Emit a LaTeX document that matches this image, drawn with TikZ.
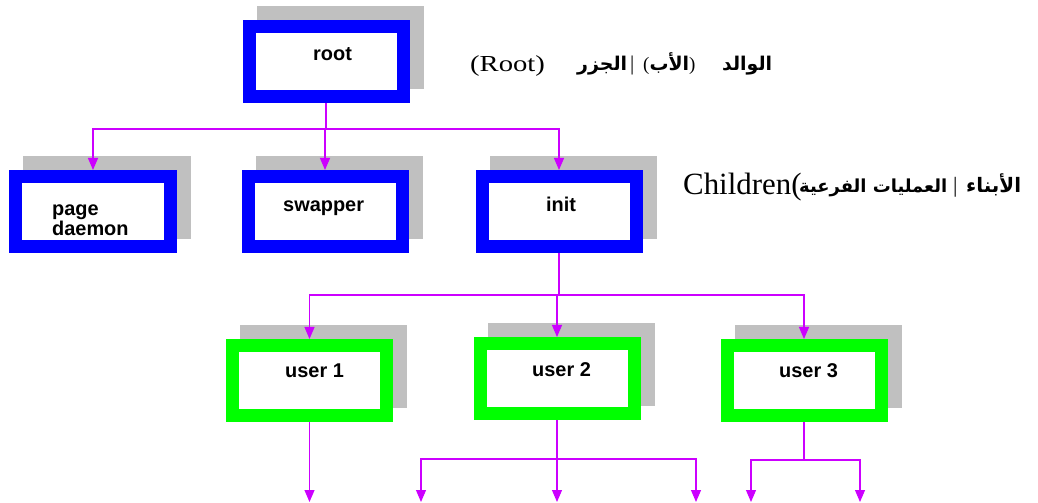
\documentclass[tikz,border=0pt]{standalone}
\usepackage{fontspec}
\usepackage{graphicx}
\setmainfont{Liberation Serif}
\newfontfamily\boxfont{Liberation Sans}
\newfontfamily\ar[Script=Arabic]{DejaVu Sans}
\TeXXeTstate=1
\usetikzlibrary{arrows.meta,backgrounds}

\definecolor{procblue}{RGB}{0,0,255}
\definecolor{procgreen}{RGB}{0,255,0}
\definecolor{shadowgray}{RGB}{192,192,192}
\definecolor{wirepurple}{RGB}{204,0,255}

\tikzset{
  procbox/.style={draw=#1, line width=13bp, fill=white,
    minimum width=154bp, minimum height=70bp, inner sep=0pt},
  lbl/.style={font=\boxfont\bfseries\fontsize{20}{20}\selectfont, inner sep=0pt},
  wire/.style={draw=wirepurple, line width=1.1bp},
  tip/.style={-{Triangle[width=10bp,length=12bp]}},
  note/.style={inner sep=0pt, anchor=base west},
}

\newcommand{\boxshadow}[1]{%
  \fill[shadowgray] ([shift={(14,-14)}]#1.north west) rectangle ([shift={(14,-14)}]#1.south east);}

\begin{document}
\begin{tikzpicture}[x=1bp,y=-1bp]
\useasboundingbox (0,0) rectangle (1038,503);

% process boxes
\node[procbox=procblue]  (root)    at (326,61.5) {};
\node[procbox=procblue]  (page)    at (93,211.5)   {};
\node[procbox=procblue]  (swapper) at (325,211.5)  {};
\node[procbox=procblue]  (init)    at (559,211.5)  {};
\node[procbox=procgreen] (user1)   at (309.5,380.5) {};
\node[procbox=procgreen] (user2)   at (557,378.5)  {};
\node[procbox=procgreen] (user3)   at (804,380.5)  {};

\begin{scope}[on background layer]
  \boxshadow{root}\boxshadow{page}\boxshadow{swapper}\boxshadow{init}
  \boxshadow{user1}\boxshadow{user2}\boxshadow{user3}
\end{scope}

% box labels
\node[lbl, anchor=base west] (troot) at (313,61) {root};
\node[lbl, anchor=west, align=left] (tpage) at (52,220) {page\\daemon};
\node[lbl, anchor=base west] (tswap) at (283,212) {swapper};
\node[lbl, anchor=base west] (tinit) at (546,212) {init};
\node[lbl, anchor=base west] (tu1) at (285,378) {user 1};
\node[lbl, anchor=base west] (tu2) at (532,377) {user 2};
\node[lbl, anchor=base west] (tu3) at (779,378) {user 3};

% bus points and open ends
\coordinate (b1) at (326,129);
\coordinate (b2) at (559,295);
\coordinate (b3) at (557,459);
\coordinate (b4) at (804,460);
\coordinate (o1)  at (309.5,502);
\coordinate (o21) at (421,502);
\coordinate (o22) at (557,502);
\coordinate (o23) at (696,502);
\coordinate (o31) at (751,502);
\coordinate (o32) at (860,502);

% root -> children
\draw[wire] (root.south) -- (b1);
\draw[wire,tip] (b1) -| (page.north);
\draw[wire,tip] (b1) -| (swapper.north);
\draw[wire,tip] (b1) -| (init.north);

% init -> users
\draw[wire] (init.south) -- (b2);
\draw[wire,tip] (b2) -| (user1.north);
\draw[wire,tip] (b2) -| (user2.north);
\draw[wire,tip] (b2) -| (user3.north);

% users -> further processes
\draw[wire,tip] (user1.south) -- (o1);
\draw[wire] (user2.south) -- (b3);
\draw[wire,tip] (b3) -| (o21);
\draw[wire,tip] (b3) -| (o22);
\draw[wire,tip] (b3) -| (o23);
\draw[wire] (user3.south) -- (b4);
\draw[wire,tip] (b4) -| (o31);
\draw[wire,tip] (b4) -| (o32);

% captions
\node[note] (capRoot) at (470,72) {\fontsize{23}{25}\selectfont\scalebox{1.25}[1]{(Root)}};
\node[note] (capA1) at (577,71) {\ar\bfseries\fontsize{19}{21}\selectfont\beginR الجزر\endR};
\node[note] (capBar1) at (630,71) {\fontsize{21}{23}\selectfont |};
\node[note] (capA2) at (643,71) {\fontsize{19}{21}\selectfont({\ar\bfseries\fontsize{19}{21}\selectfont\beginR الأب\endR})};
\node[note] (capA3) at (722,71) {\ar\bfseries\fontsize{19}{21}\selectfont\beginR الوالد\endR};

\node[note] (capKids) at (683,195) {\fontsize{31}{33}\selectfont Children(};
\node[note] (capB1) at (799,193) {\ar\bfseries\fontsize{18}{20}\selectfont\beginR العمليات الفرعية\endR};
\node[note] (capBar2) at (953,193) {\fontsize{22}{24}\selectfont |};
\node[note] (capB2) at (966,193) {\ar\bfseries\fontsize{20}{22}\selectfont\beginR الأبناء\endR};
\end{tikzpicture}
\end{document}
